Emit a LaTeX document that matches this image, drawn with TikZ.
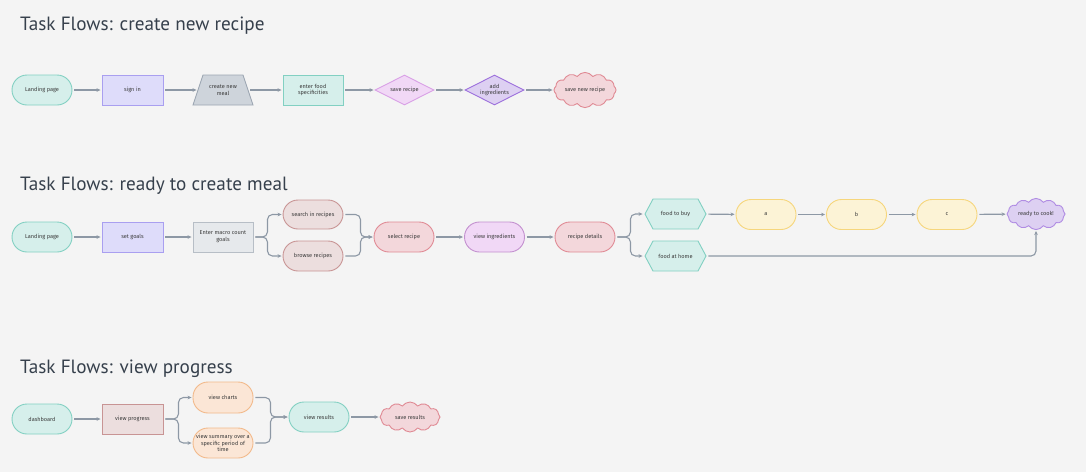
\documentclass[tikz,border=0pt]{standalone}
\usepackage{fontspec}
\setmainfont{Fira Sans}
\newfontfamily\titlefont{PT Sans}
\usetikzlibrary{shapes.geometric,shapes.symbols,shapes.misc,arrows.meta}
\definecolor{bg}{HTML}{F4F4F4}
\definecolor{txt}{HTML}{3A3A3A}
\definecolor{titlec}{HTML}{36404C}
\definecolor{lc}{HTML}{8D98A5}
\definecolor{tealf}{HTML}{D6EFEB}\definecolor{teald}{HTML}{82D0C2}
\definecolor{purf}{HTML}{DEDCFA}\definecolor{purd}{HTML}{A99FF0}
\definecolor{grayf}{HTML}{CED4DB}\definecolor{grayd}{HTML}{9CA6B2}
\definecolor{lgf}{HTML}{E6E9EC}\definecolor{lgd}{HTML}{B7BEC6}
\definecolor{magf}{HTML}{F1D8F6}\definecolor{magd}{HTML}{D9A0E6}
\definecolor{vlf}{HTML}{DDD0F2}\definecolor{vld}{HTML}{9C6FDC}
\definecolor{redf}{HTML}{F3D7DB}\definecolor{redd}{HTML}{E08A94}
\definecolor{rosef}{HTML}{ECDEDE}\definecolor{rosed}{HTML}{C89494}
\definecolor{yelf}{HTML}{FCF3D6}\definecolor{yeld}{HTML}{F6D67C}
\definecolor{orf}{HTML}{FBE6D6}\definecolor{ord}{HTML}{F2B98A}
\newcommand\hexshape[2]{%
  \filldraw[fill=tealf,draw=teald,line width=0.9pt] ({#1-30.5},#2) -- ({#1-22.5},{#2-15}) -- ({#1+22.5},{#2-15}) -- ({#1+30.5},#2) -- ({#1+22.5},{#2+15}) -- ({#1-22.5},{#2+15}) -- cycle;}
\begin{document}
\begin{tikzpicture}[x=1pt,y=-1pt,
  box/.style={draw, line width=0.9pt, minimum width=60pt, minimum height=30pt, inner sep=1pt,
    font=\fontsize{5.6}{6.7}\selectfont, text=txt, align=center},
  stad/.style={box, rounded corners=15pt},
  dia/.style={box, diamond, aspect=2, minimum width=59pt, minimum height=30pt, inner sep=0pt},
  cloudb/.style={box, cloud, cloud puffs=12, cloud puff arc=110, aspect=2, minimum width=62pt, minimum height=30pt, inner sep=0pt},
  plain/.style={box, draw=none},
  teal/.style={fill=tealf, draw=teald},
  purp/.style={fill=purf, draw=purd},
  rose/.style={fill=rosef, draw=rosed},
  redn/.style={fill=redf, draw=redd},
  yel/.style={fill=yelf, draw=yeld},
  orn/.style={fill=orf, draw=ord},
  title/.style={anchor=base west, font=\titlefont\fontsize{19.2}{23}\selectfont, text=titlec, inner sep=0pt},
  conn/.style={draw=lc, line width=1.1pt, -{Stealth[length=4pt,width=3.6pt]}, shorten >=1pt, shorten <=2pt},
  br/.style={conn, rounded corners=5pt}]
\useasboundingbox (0,0) rectangle (1086,472);
\fill[bg] (0,0) rectangle (1086,472);

% titles
\node[title] (t1) at (20,30) {Task Flows: create new recipe};
\node[title] (t2) at (20,190) {Task Flows: ready to create meal};
\node[title] (t3) at (20,373) {Task Flows: view progress};

% ---------- row 1
\node[stad,teal] (L1) at (42,90) {Landing page};
\node[box,purp,minimum width=61pt] (S1) at (132.5,90) {sign in};
\filldraw[fill=grayf,draw=grayd,line width=0.9pt] (193,105) -- (203,75) -- (243,75) -- (253,105) -- cycle;
\node[plain,minimum width=50pt] (C1) at (223,90) {create new\\meal};
\node[box,teal] (E1) at (313,90) {enter food\\specificities};
\node[dia,fill=magf,draw=magd] (D1) at (404.5,90) {save recipe};
\node[dia,fill=vlf,draw=vld] (D2) at (494.5,90) {add\\ingredients};
\node[cloudb,redn] (CL1) at (585,90) {save new recipe};
\draw[conn] (L1) -- (S1);
\draw[conn] (S1) -- (C1);
\draw[conn] (C1) -- (E1);
\draw[conn] (E1) -- (D1);
\draw[conn] (D1) -- (D2);
\draw[conn] (D2) -- (CL1);

% ---------- row 2
\node[stad,teal] (L2) at (42,237) {Landing page};
\node[box,purp,minimum width=61pt] (G2) at (132.5,237) {set goals};
\node[box,fill=lgf,draw=lgd] (M2) at (223,237) {Enter macro count\\goals};
\node[stad,rose,minimum height=29pt] (SR) at (313,214.5) {search in recipes};
\node[stad,rose] (BR) at (313,256) {browse recipes};
\node[stad,redn] (SEL) at (404,237) {select recipe};
\node[stad,fill=magf,draw=magd!90!black] (VI) at (494.5,237) {view ingredients};
\node[stad,redn] (RD) at (585,237) {recipe details};
\hexshape{675.5}{214}
\node[plain,minimum width=61pt] (FB) at (675.5,214) {food to buy};
\hexshape{675.5}{256}
\node[plain,minimum width=61pt] (FH) at (675.5,256) {food at home};
\node[stad,yel] (A) at (766,214.5) {a};
\node[stad,yel] (B) at (856.5,214.5) {b};
\node[stad,yel] (C) at (947,214.5) {c};
\node[cloudb,fill=vlf,draw=vld!80,minimum width=58pt] (RC) at (1036,214) {ready to cook!};
\draw[conn] (L2) -- (G2);
\draw[conn] (G2) -- (M2);
\draw[br] (M2.east) -- ++(14,0) |- (SR.west);
\draw[br] (M2.east) -- ++(14,0) |- (BR.west);
\draw[br] (SR.east) -- ++(17,0) |- (SEL.west);
\draw[br] (BR.east) -- ++(17,0) |- (SEL.west);
\draw[conn] (SEL) -- (VI);
\draw[conn] (VI) -- (RD);
\draw[br,shorten >=2pt] (RD.east) -- ++(15,0) |- (FB.west);
\draw[br,shorten >=2pt] (RD.east) -- ++(15,0) |- (FH.west);
\draw[conn] (FB) -- (A);
\draw[conn] (A) -- (B);
\draw[conn] (B) -- (C);
\draw[conn] (C) -- (RC);
\draw[br] (FH.east) -| (RC.south);

% ---------- row 3
\node[stad,teal] (DB) at (42,419) {dashboard};
\node[box,rose,minimum width=61pt] (VP) at (132.5,419) {view progress};
\node[stad,orn,minimum height=31pt] (VC) at (223,397.5) {view charts};
\node[stad,orn] (VS) at (223,443) {view summary over a\\specific period of\\time};
\node[stad,teal] (VR) at (319,417) {view results};
\node[cloudb,redn,minimum width=60pt] (SRS) at (410,417) {save results};
\draw[conn] (DB) -- (VP);
\draw[br] (VP.east) -- ++(15,0) |- (VC.west);
\draw[br] (VP.east) -- ++(15,0) |- (VS.west);
\draw[br] (VC.east) -- ++(17,0) |- (VR.west);
\draw[br] (VS.east) -- ++(17,0) |- (VR.west);
\draw[conn] (VR) -- (SRS);
\end{tikzpicture}
\end{document}
